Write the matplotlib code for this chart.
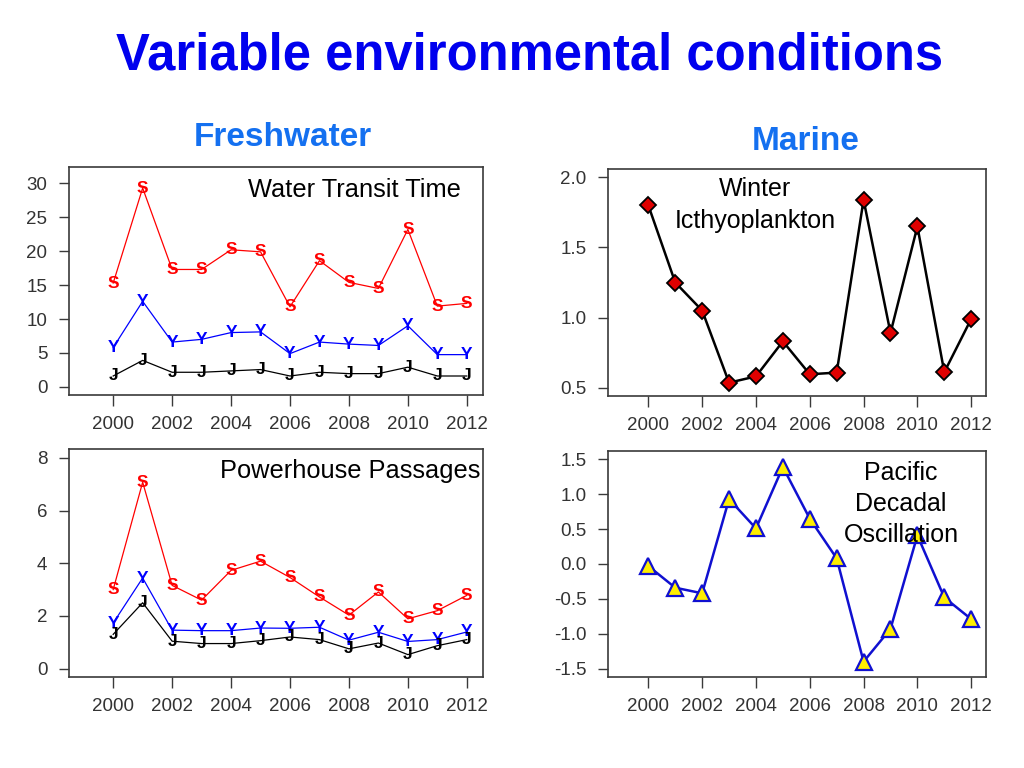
import matplotlib

matplotlib.use("Agg")
import matplotlib.pyplot as plt

plt.rcParams["font.family"] = ["Liberation Sans", "DejaVu Sans"]
plt.rcParams["axes.unicode_minus"] = False

years = list(range(2000, 2013))

# Water Transit Time (freshwater)
wtt_s = [15.3, 29.3, 17.3, 17.3, 20.2, 19.9, 11.8, 18.6, 15.4, 14.5, 23.2, 11.9, 12.3]
wtt_y = [5.8, 12.6, 6.6, 7.0, 8.0, 8.1, 4.9, 6.6, 6.3, 6.1, 9.0, 4.75, 4.75]
wtt_j = [1.6, 3.9, 2.15, 2.15, 2.35, 2.55, 1.6, 2.15, 1.95, 1.95, 2.9, 1.6, 1.6]

# Powerhouse Passages (freshwater)
php_s = [3.0, 7.08, 3.16, 2.6, 3.73, 4.08, 3.46, 2.72, 2.03, 2.91, 1.89, 2.2, 2.78]
php_y = [1.73, 3.44, 1.46, 1.44, 1.44, 1.54, 1.53, 1.57, 1.08, 1.38, 1.03, 1.1, 1.39]
php_j = [1.3, 2.5, 1.04, 0.95, 0.95, 1.06, 1.2, 1.1, 0.75, 0.97, 0.53, 0.87, 1.1]

# marine
ichthyo = [1.80, 1.25, 1.05, 0.535, 0.58, 0.83, 0.595, 0.607, 1.84, 0.89, 1.65, 0.61, 0.99]
pdo = [-0.03, -0.34, -0.42, 0.93, 0.51, 1.39, 0.65, 0.08, -1.40, -0.93, 0.41, -0.48, -0.79]

year_ticks = list(range(2000, 2013, 2))

fig = plt.figure(figsize=(10.24, 7.68), dpi=100)


def px_axes(left, top, right, bottom):
    return fig.add_axes([left / 1024, 1 - bottom / 768,
                         (right - left) / 1024, (bottom - top) / 768])


def style(ax, yticks, ylim, fmt=None):
    ax.set_xlim(1998.5, 2012.55)
    ax.set_ylim(*ylim)
    ax.set_xticks(year_ticks)
    ax.set_yticks(yticks)
    if fmt:
        ax.set_yticklabels([fmt.format(v) for v in yticks])
    for s in ax.spines.values():
        s.set_color("#3a3a3a")
        s.set_linewidth(1.2)
    ax.tick_params(axis="y", length=7.5, width=1.0, color="#3a3a3a",
                   labelsize=13.5, labelcolor="#333333", pad=8)
    ax.tick_params(axis="x", length=8, width=1.0, color="#3a3a3a",
                   labelsize=13.5, labelcolor="#333333", pad=7)


def letters(ax, vals, ch, color):
    ax.plot(years, vals, color=color, lw=0.9)
    for x, v in zip(years, vals):
        ax.text(x, v, ch, color=color, fontsize=12.5, fontweight="bold",
                ha="center", va="center")


# freshwater: water transit time
ax1 = px_axes(69, 167, 483, 395)
letters(ax1, wtt_s, "S", "#ff0000")
letters(ax1, wtt_y, "Y", "#0000ff")
letters(ax1, wtt_j, "J", "#000000")
style(ax1, [0, 5, 10, 15, 20, 25, 30], (-1.2, 32.4))

# freshwater: powerhouse passages
ax2 = px_axes(69, 449, 483, 677)
letters(ax2, php_s, "S", "#ff0000")
letters(ax2, php_y, "Y", "#0000ff")
letters(ax2, php_j, "J", "#000000")
style(ax2, [0, 2, 4, 6, 8], (-0.32, 8.34))

# marine: winter ichthyoplankton
ax3 = px_axes(608, 169, 986, 396)
ax3.plot(years, ichthyo, color="black", lw=1.8, marker="D", markersize=8,
         markerfacecolor="#e00000", markeredgecolor="black", markeredgewidth=1.3)
style(ax3, [0.5, 1.0, 1.5, 2.0], (0.44, 2.06), "{:.1f}")

# marine: PDO
ax4 = px_axes(608, 451, 986, 677)
ax4.plot(years, pdo, color="#1010d0", lw=1.8, marker="^", markersize=12,
         markerfacecolor="#ffee00", markeredgecolor="#1010d0", markeredgewidth=1.6)
style(ax4, [-1.5, -1.0, -0.5, 0.0, 0.5, 1.0, 1.5], (-1.62, 1.62), "{:.1f}")

# titles
fig.text(530 / 1024, 1 - 56 / 768, "Variable environmental conditions",
         color="#0000ee", fontsize=36.5, fontweight="bold", ha="center", va="center")
fig.text(283 / 1024, 1 - 137 / 768, "Freshwater", color="#1470f0",
         fontsize=24, fontweight="bold", ha="center", va="center")
fig.text(806 / 1024, 1 - 141 / 768, "Marine", color="#1470f0",
         fontsize=24, fontweight="bold", ha="center", va="center")

# panel labels
fig.text(354 / 1024, 1 - 190 / 768, "Water Transit Time", fontsize=18.3,
         ha="center", va="center")
fig.text(480 / 1024, 1 - 471 / 768, "Powerhouse Passages", fontsize=18.3,
         ha="right", va="center")
fig.text(755 / 1024, 1 - 205 / 768, "Winter\nIcthyoplankton", fontsize=18,
         ha="center", va="center", linespacing=1.37)
fig.text(901 / 1024, 1 - 504 / 768, "Pacific\nDecadal\nOscillation", fontsize=18,
         ha="center", va="center", linespacing=1.37)

fig.savefig("out.png", dpi=100)
